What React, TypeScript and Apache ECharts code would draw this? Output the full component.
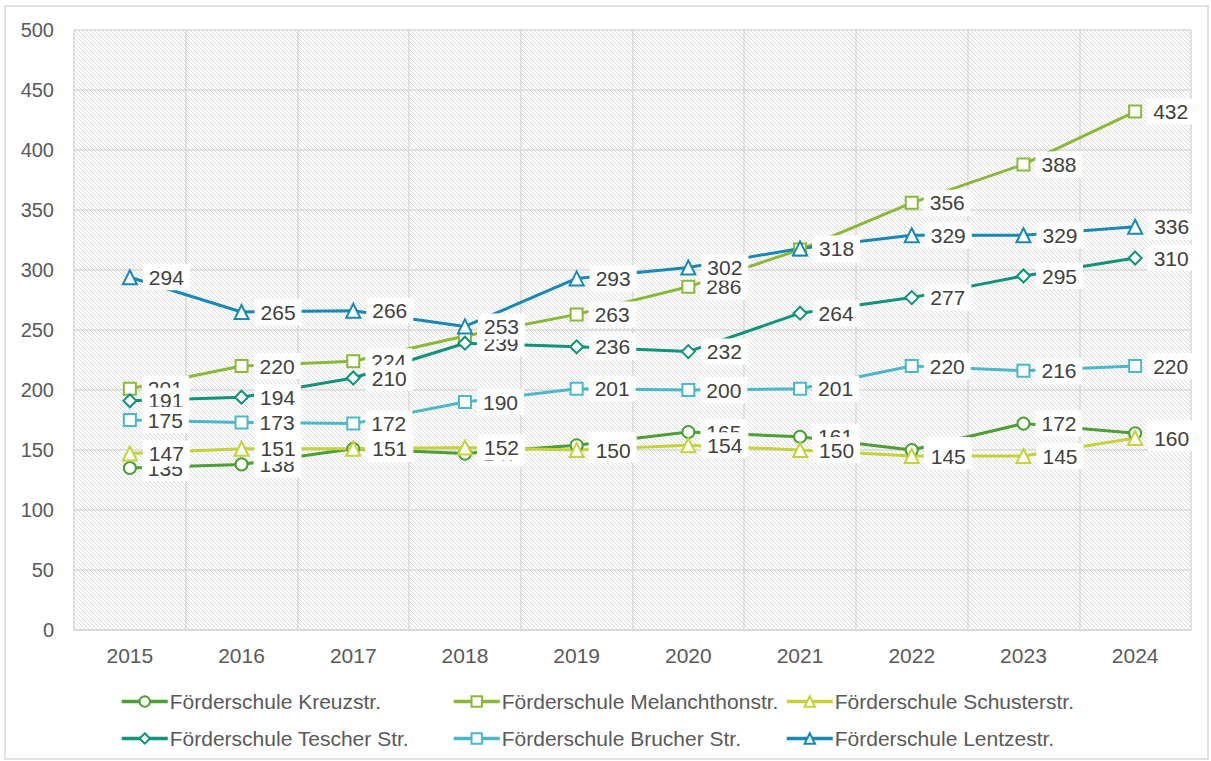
import React, { useEffect, useRef } from "react";
import * as echarts from "echarts";

const years = ["2015", "2016", "2017", "2018", "2019", "2020", "2021", "2022", "2023", "2024"];
const kreuz = [135, 138, 151, 147, 154, 165, 161, 150, 172, 164];
const melanch = [201, 220, 224, 245, 263, 286, 317, 356, 388, 432];
const schuster = [147, 151, 151, 152, 150, 154, 150, 145, 145, 160];
const tescher = [191, 194, 210, 239, 236, 232, 264, 277, 295, 310];
const brucher = [175, 173, 172, 190, 201, 200, 201, 220, 216, 220];
const lentze = [294, 265, 266, 253, 293, 302, 318, 329, 329, 336];

const seriesDefs = [
  { name: "Förderschule Kreuzstr.", data: kreuz, color: "#4c9e35", symbol: "circle" },
  { name: "Förderschule Melanchthonstr.", data: melanch, color: "#8cb83a", symbol: "rect" },
  { name: "Förderschule Schusterstr.", data: schuster, color: "#c5d23c", symbol: "triangle" },
  { name: "Förderschule Tescher Str.", data: tescher, color: "#11927a", symbol: "diamond" },
  { name: "Förderschule Brucher Str.", data: brucher, color: "#4cb7c8", symbol: "rect" },
  { name: "Förderschule Lentzestr.", data: lentze, color: "#1a88b4", symbol: "triangle" },
];

const legendPos = [
  { left: 115, top: 686 },
  { left: 447, top: 686 },
  { left: 780, top: 686 },
  { left: 115, top: 723 },
  { left: 447, top: 723 },
  { left: 780, top: 723 },
];

function makeHatch(): string {
  const c = document.createElement("canvas");
  const n = 4;
  c.width = n;
  c.height = n;
  const ctx = c.getContext("2d")!;
  ctx.fillStyle = "#ffffff";
  ctx.fillRect(0, 0, n, n);
  ctx.fillStyle = "#dcdcdc";
  for (let i = 0; i < n; i++) ctx.fillRect(i, i, 1, 1);
  return c.toDataURL();
}

export default function App() {
  const ref = useRef<HTMLDivElement>(null);
  useEffect(() => {
    document.body.style.margin = "0";
    const chart = echarts.init(ref.current!, null, { renderer: "svg" });
    const hatch = makeHatch();
    const font = "'Liberation Sans', Arial, sans-serif";
    chart.setOption({
      animation: false,
      backgroundColor: "#ffffff",
      textStyle: { fontFamily: font },
      graphic: [
        {
          type: "rect",
          shape: { x: 5, y: 6, width: 1203, height: 753 },
          style: { fill: "none", stroke: "#d9d9d9", lineWidth: 1.5 },
          silent: true,
        },
      ],
      grid: {
        left: 74,
        right: 20,
        top: 30,
        bottom: 131,
        show: true,
        borderWidth: 0,
        backgroundColor: { image: hatch, repeat: "repeat" },
      },
      legend: seriesDefs.map((s, i) => ({
        data: [s.name],
        left: legendPos[i].left,
        top: legendPos[i].top,
        itemWidth: 46,
        itemHeight: 13,
        itemGap: 0,
        lineStyle: { width: 3.5 },
        itemStyle: { borderWidth: 2 },
        textStyle: { fontSize: 21, color: "#595959", fontFamily: font, padding: [0, 0, 0, -3] },
      })),
      xAxis: {
        type: "category",
        data: years,
        boundaryGap: true,
        axisLine: { show: true, lineStyle: { color: "#d9d9d9", width: 1.5 } },
        axisTick: { show: false },
        splitLine: { show: true, interval: 0, lineStyle: { color: "#d9d9d9", width: 1.5 } },
        axisLabel: { fontSize: 21, color: "#595959", margin: 15, fontFamily: font },
      },
      yAxis: {
        type: "value",
        min: 0,
        max: 500,
        interval: 50,
        axisLine: { show: false },
        axisTick: { show: false },
        splitLine: { show: true, lineStyle: { color: "#d9d9d9", width: 1.5 } },
        axisLabel: { fontSize: 20, color: "#595959", margin: 20, fontFamily: font },
      },
      series: seriesDefs.map((s) => ({
        name: s.name,
        type: "line",
        data: s.data,
        symbol: s.symbol,
        symbolSize: s.symbol === "diamond" ? 13 : s.symbol === "triangle" ? 14 : 12,
        showAllSymbol: true,
        color: s.color,
        lineStyle: { color: s.color, width: 3 },
        itemStyle: { color: "#ffffff", borderColor: s.color, borderWidth: 2 },
        label: {
          show: true,
          position: "right",
          distance: 5,
          offset: [0, 2],
          fontSize: 21,
          color: "#404040",
          backgroundColor: "#ffffff",
          padding: [3, 6, 2, 6],
          fontFamily: font,
        },
        labelLayout: { hideOverlap: false },
      })),
    });
    return () => chart.dispose();
  }, []);
  return (
    <div
      ref={ref}
      style={{ position: "fixed", left: 0, top: 0, width: 1211, height: 761 }}
    />
  );
}
